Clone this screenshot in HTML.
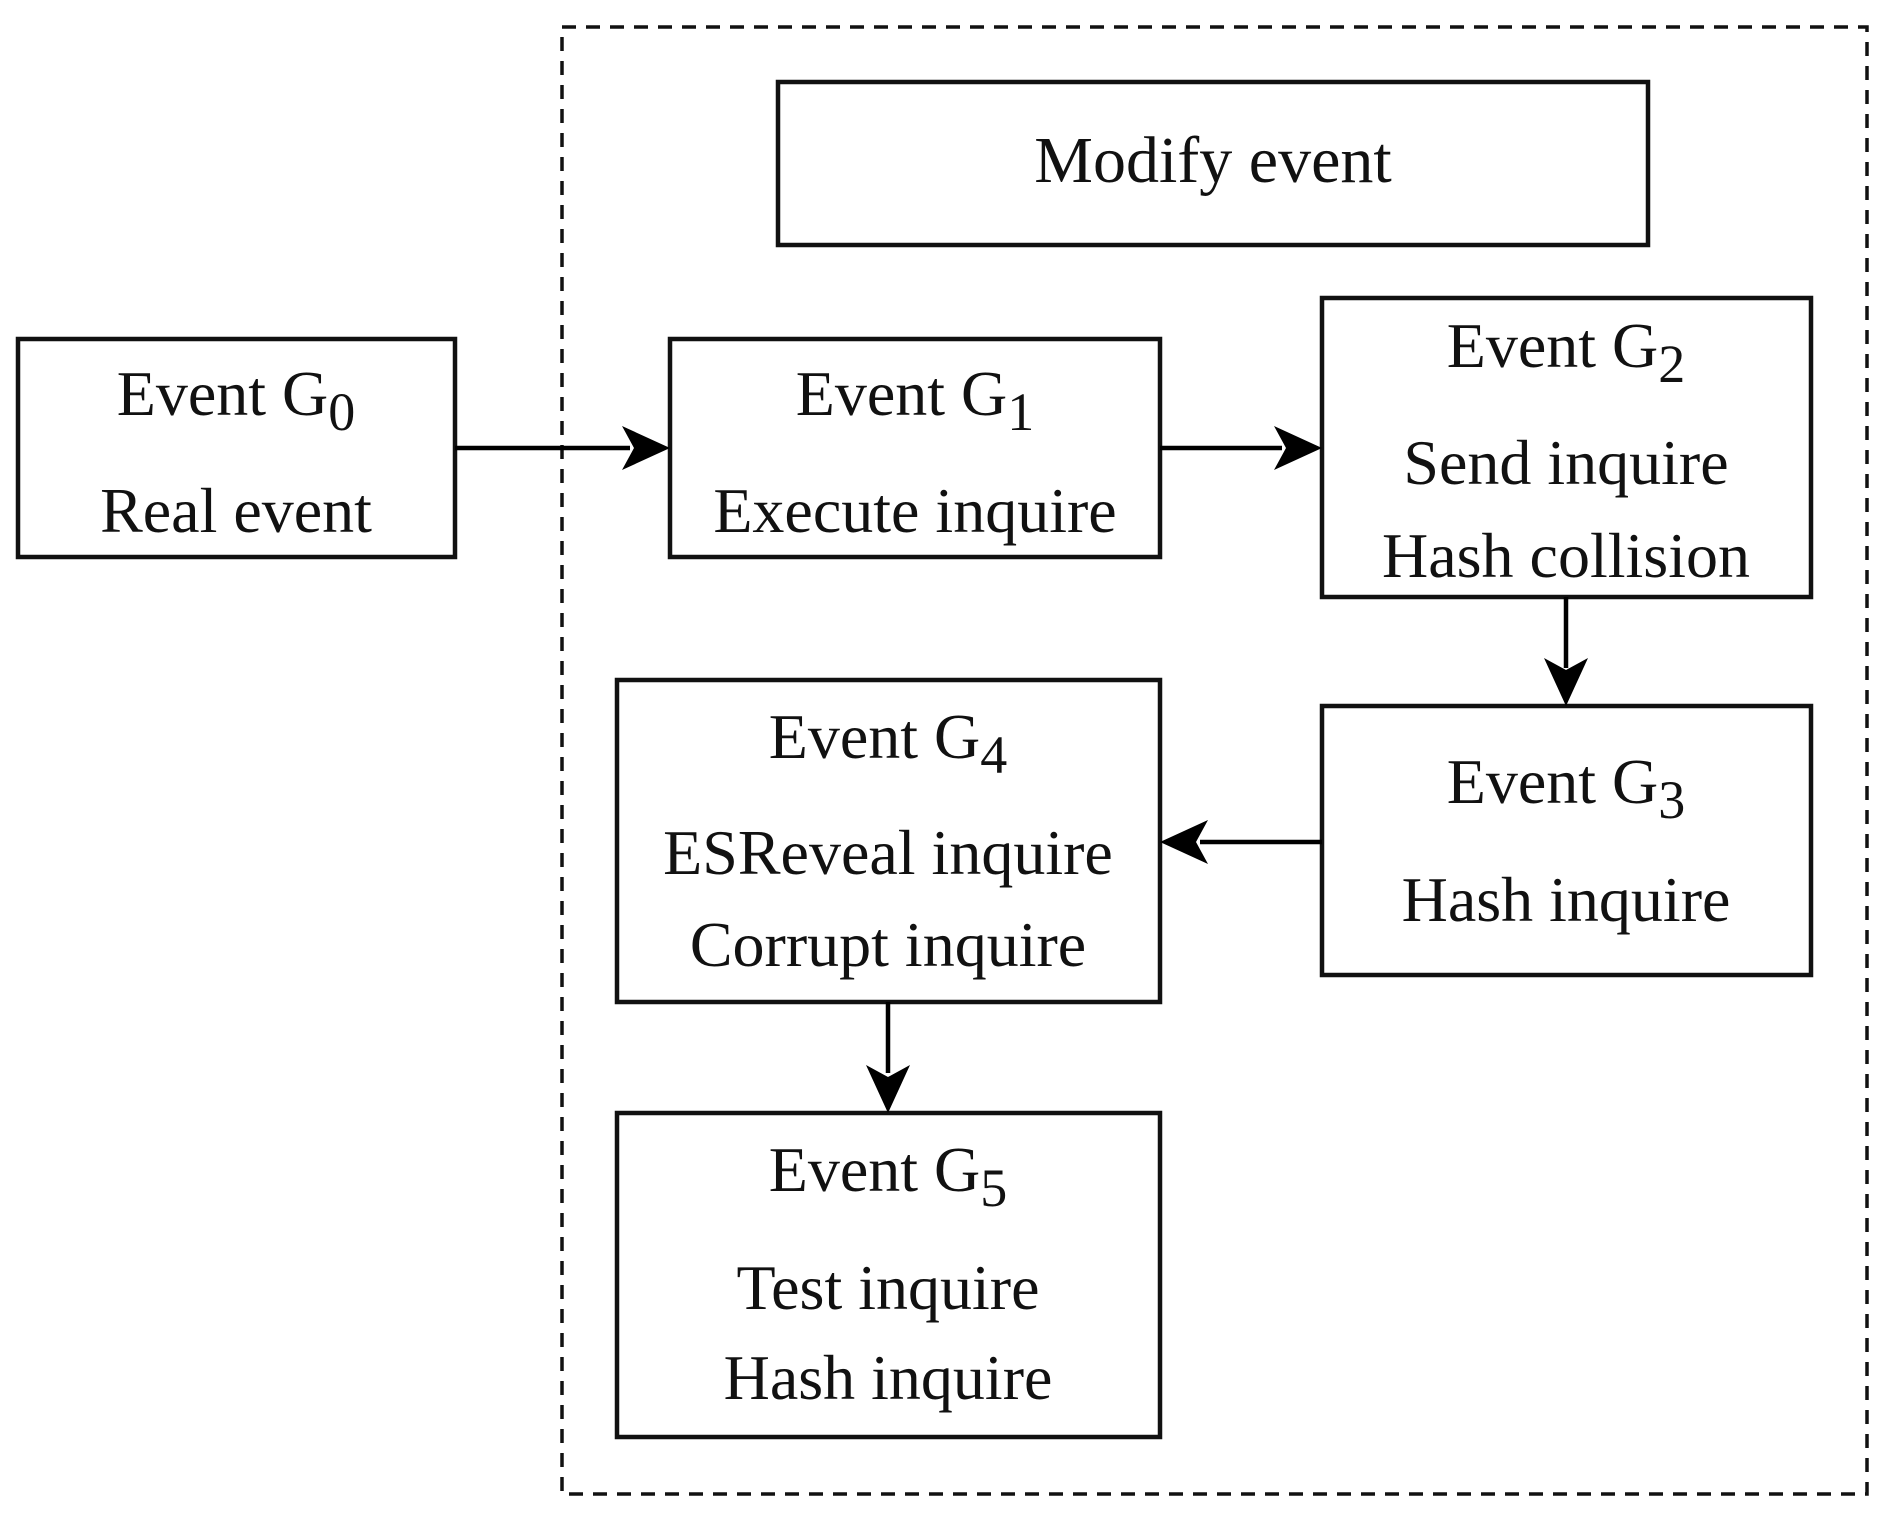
<!DOCTYPE html>
<html><head><meta charset="utf-8"><style>
html,body{margin:0;padding:0;background:#fff;}
svg{display:block;}
text{font-family:"Liberation Serif",serif;font-size:64px;fill:#111;text-anchor:middle;}
tspan.s{font-size:54px;}
</style></head><body>
<svg width="1886" height="1522" viewBox="0 0 1886 1522" xmlns="http://www.w3.org/2000/svg">
<g fill="none" stroke="#111" stroke-width="4.5">
<rect x="562" y="27" width="1305" height="1467" stroke-dasharray="14,10" stroke-width="3.5"/>
<rect x="778" y="82" width="870" height="163"/>
<rect x="18" y="339" width="437" height="218"/>
<rect x="670" y="339" width="490" height="218"/>
<rect x="1322" y="298" width="489" height="299"/>
<rect x="1322" y="706" width="489" height="269"/>
<rect x="617" y="680" width="543" height="322"/>
<rect x="617" y="1113" width="543" height="324"/>
</g>
<g stroke="#000" stroke-width="4.5" fill="#000">
<line x1="455" y1="448" x2="630" y2="448"/><path d="M670,448 L622,426 L634,448 L622,470 z" stroke="none"/>
<line x1="1160" y1="448" x2="1282" y2="448"/><path d="M1322,448 L1274,426 L1286,448 L1274,470 z" stroke="none"/>
<line x1="1566" y1="597" x2="1566" y2="668"/><path d="M1566,706 L1544,658 L1566,670 L1588,658 z" stroke="none"/>
<line x1="1322" y1="842" x2="1200" y2="842"/><path d="M1160,842 L1208,820 L1196,842 L1208,864 z" stroke="none"/>
<line x1="888" y1="1002" x2="888" y2="1073"/><path d="M888,1113 L866,1065 L888,1077 L910,1065 z" stroke="none"/>
</g>
<text x="1213" y="182" style="font-size:66px">Modify event</text>
<text x="236" y="415">Event G<tspan class="s" dy="15">0</tspan></text>
<text x="236" y="532">Real event</text>
<text x="915" y="415">Event G<tspan class="s" dy="15">1</tspan></text>
<text x="915" y="532">Execute inquire</text>
<text x="1566" y="367">Event G<tspan class="s" dy="15">2</tspan></text>
<text x="1566" y="484">Send inquire</text>
<text x="1566" y="577">Hash collision</text>
<text x="1566" y="803">Event G<tspan class="s" dy="15">3</tspan></text>
<text x="1566" y="921">Hash inquire</text>
<text x="888" y="758">Event G<tspan class="s" dy="15">4</tspan></text>
<text x="888" y="874">ESReveal inquire</text>
<text x="888" y="966">Corrupt inquire</text>
<text x="888" y="1191">Event G<tspan class="s" dy="15">5</tspan></text>
<text x="888" y="1309">Test inquire</text>
<text x="888" y="1399">Hash inquire</text>
</svg>
</body></html>
